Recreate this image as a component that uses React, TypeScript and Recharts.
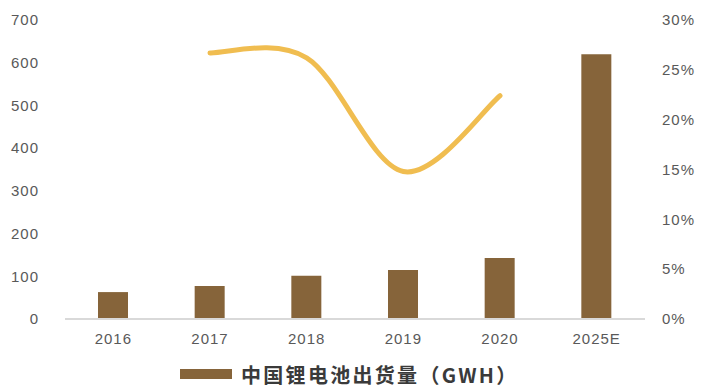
import { ComposedChart, Bar, Line, XAxis, YAxis } from 'recharts';

const years = ['2016', '2017', '2018', '2019', '2020', '2025E'];
const shipments = [63, 77, 101, 115, 143, 620]; // GWh
const growth = [null, 0.267, 0.262, 0.148, 0.224, null];
const leftTicks = [0, 100, 200, 300, 400, 500, 600, 700];
const rightTicks = [0, 0.05, 0.1, 0.15, 0.2, 0.25, 0.3];

const BAR_COLOR = '#86643A';
const LINE_COLOR = '#F0BD50';

const data = years.map((year, i) => ({
  year,
  shipments: shipments[i],
  growth: growth[i],
}));

const tickStyle = {
  fill: '#595959',
  fontSize: 15,
  fontFamily: 'Liberation Sans, Arial, sans-serif',
  letterSpacing: 1,
};

// Excel-like smoothed line (Catmull-Rom with 1/6 control points)
const smoothCurve = (ctx: any) => {
  let pts: [number, number][] = [];
  return {
    areaStart() {},
    areaEnd() {},
    lineStart() {
      pts = [];
    },
    point(x: number, y: number) {
      pts.push([+x, +y]);
    },
    lineEnd() {
      if (!pts.length) return;
      ctx.moveTo(pts[0][0], pts[0][1]);
      for (let i = 0; i < pts.length - 1; i++) {
        const p0 = pts[i - 1] || pts[i];
        const p1 = pts[i];
        const p2 = pts[i + 1];
        const p3 = pts[i + 2] || p2;
        ctx.bezierCurveTo(
          p1[0] + (p2[0] - p0[0]) / 6,
          p1[1] + (p2[1] - p0[1]) / 6,
          p2[0] - (p3[0] - p1[0]) / 6,
          p2[1] - (p3[1] - p1[1]) / 6,
          p2[0],
          p2[1]
        );
      }
    },
  };
};

export default function App() {
  return (
    <div style={{ position: 'relative', width: 703, height: 388, background: '#fff' }}>
      <style>{'body{margin:0}'}</style>
      <ComposedChart
        width={703}
        height={388}
        data={data}
        margin={{ top: 20, right: 0, bottom: 0, left: 0 }}
      >
        <XAxis
          dataKey="year"
          height={69}
          tick={tickStyle}
          tickLine={false}
          tickSize={0}
          tickMargin={14}
          axisLine={{ stroke: '#d9d9d9', strokeWidth: 2 }}
        />
        <YAxis
          yAxisId="left"
          width={65}
          domain={[0, 700]}
          ticks={leftTicks}
          tick={tickStyle}
          tickLine={false}
          axisLine={false}
          tickSize={0}
          tickMargin={26}
        />
        <YAxis
          yAxisId="right"
          orientation="right"
          width={58}
          domain={[0, 0.3]}
          ticks={rightTicks}
          tick={{ ...tickStyle, textAnchor: 'start' }}
          tickFormatter={(v: number) => `${Math.round(v * 100)}%`}
          tickLine={false}
          axisLine={false}
          tickSize={0}
          tickMargin={17}
        />
        <Bar
          yAxisId="left"
          dataKey="shipments"
          fill={BAR_COLOR}
          barSize={30}
          isAnimationActive={false}
        />
        <Line
          yAxisId="right"
          dataKey="growth"
          type={smoothCurve as any}
          stroke={LINE_COLOR}
          strokeWidth={5}
          strokeLinecap="round"
          dot={false}
          activeDot={false}
          isAnimationActive={false}
        />
      </ComposedChart>
      <div
        style={{
          position: 'absolute',
          left: 180,
          top: 360,
          height: 28,
          display: 'flex',
          alignItems: 'center',
          fontFamily: 'Noto Sans CJK SC, sans-serif',
          fontWeight: 700,
          fontSize: 20,
          letterSpacing: 2.3,
          color: '#3a3a3a',
          whiteSpace: 'nowrap',
        }}
      >
        <span style={{ display: 'inline-block', width: 52, height: 10, background: BAR_COLOR, marginRight: 9 }} />
        <span>中国锂电池出货量（GWH）</span>
      </div>
    </div>
  );
}
